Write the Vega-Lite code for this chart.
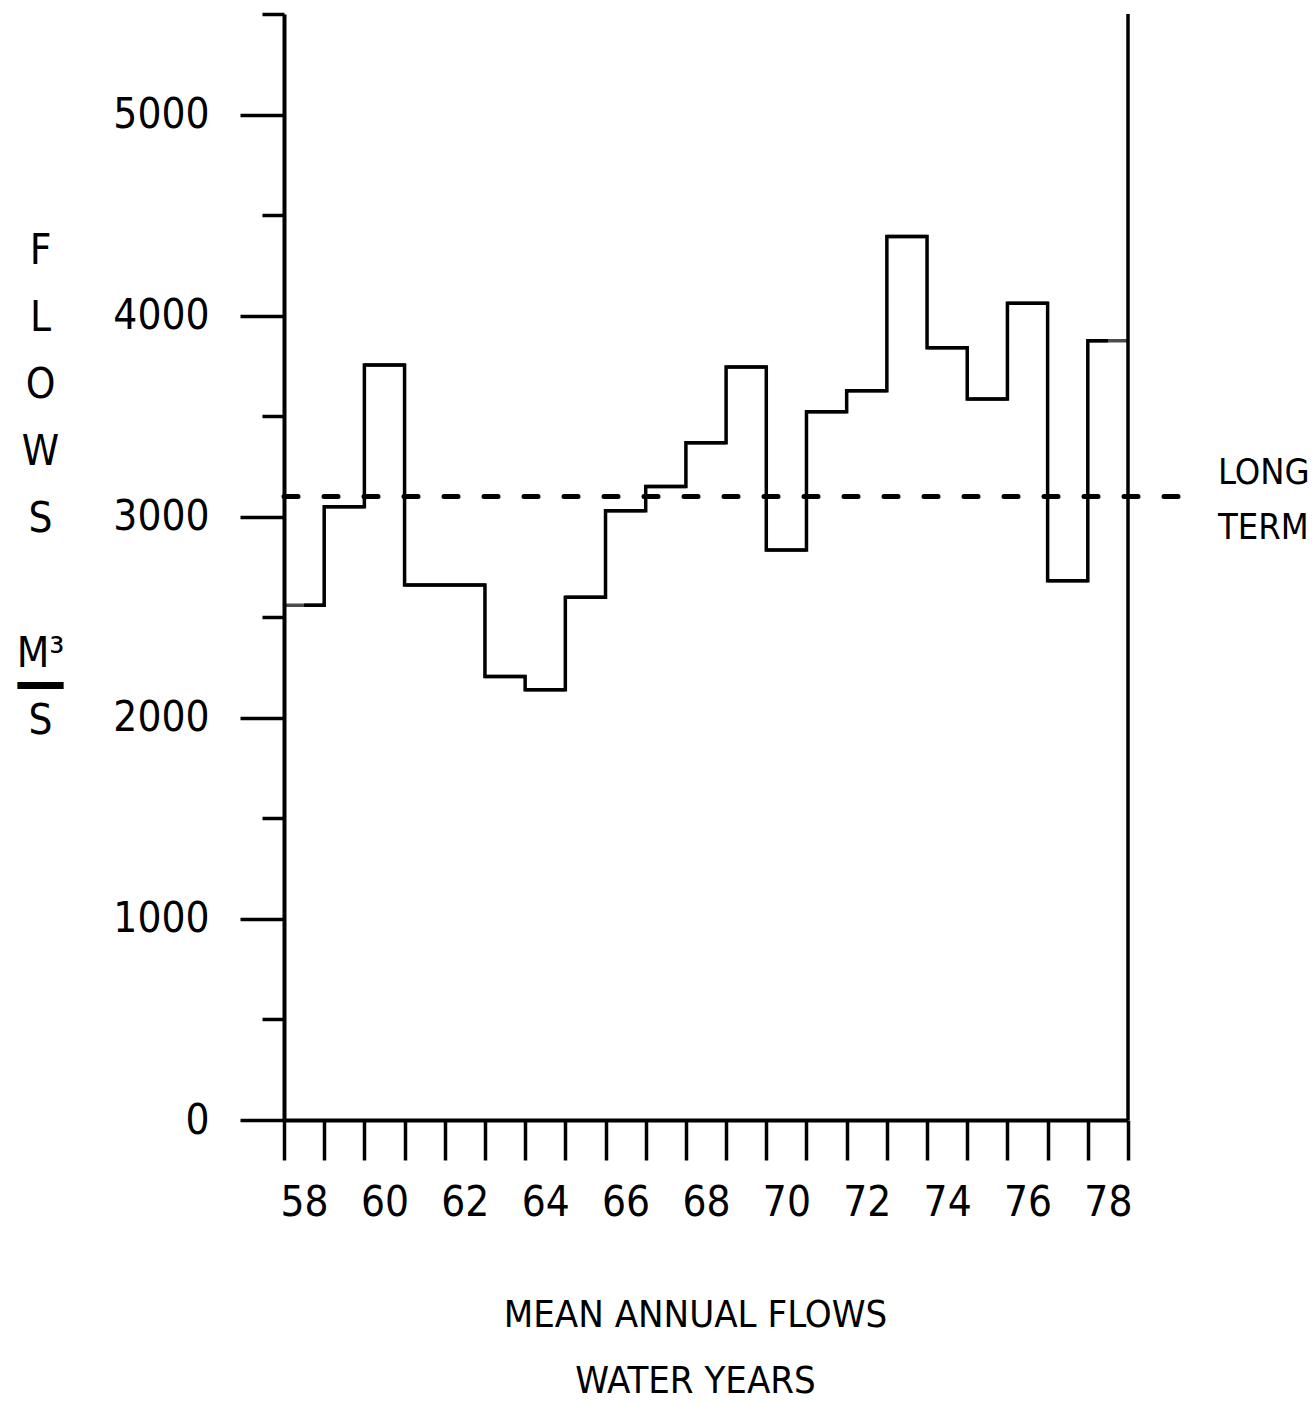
{
  "$schema": "https://vega.github.io/schema/vega-lite/v6.json",
  "width": 844,
  "height": 1106,
  "autosize": "none",
  "padding": {"left": 284, "top": 14, "right": 187, "bottom": 284},
  "background": "white",
  "config": {
    "view": {"stroke": null},
    "font": "DejaVu Sans Condensed, DejaVu Sans, sans-serif",
    "axis": {
      "grid": false,
      "domainColor": "black",
      "tickColor": "black",
      "labelColor": "black",
      "titleColor": "black",
      "labelFont": "DejaVu Sans Condensed, DejaVu Sans, sans-serif",
      "titleFont": "DejaVu Sans Condensed, DejaVu Sans, sans-serif",
      "titleFontWeight": "normal",
      "labelFontWeight": "normal"
    },
    "text": {"font": "DejaVu Sans Condensed, DejaVu Sans, sans-serif"}
  },
  "datasets": {
    "flows": [
      {"year": 58, "flow": 2560},
      {"year": 59, "flow": 3050},
      {"year": 60, "flow": 3755},
      {"year": 61, "flow": 2660},
      {"year": 62, "flow": 2660},
      {"year": 63, "flow": 2205},
      {"year": 64, "flow": 2140},
      {"year": 65, "flow": 2600},
      {"year": 66, "flow": 3030},
      {"year": 67, "flow": 3150},
      {"year": 68, "flow": 3368},
      {"year": 69, "flow": 3745},
      {"year": 70, "flow": 2835},
      {"year": 71, "flow": 3522},
      {"year": 72, "flow": 3627},
      {"year": 73, "flow": 4393},
      {"year": 74, "flow": 3840},
      {"year": 75, "flow": 3585},
      {"year": 76, "flow": 4062},
      {"year": 77, "flow": 2682},
      {"year": 78, "flow": 3875}
    ],
    "longterm": [{"label": "LONG TERM", "flow": 3100}]
  },
  "layer": [
    {
      "data": {"name": "flows"},
      "mark": {"type": "line", "interpolate": "step", "color": "black", "strokeWidth": 3.5},
      "encoding": {
        "x": {
          "field": "year",
          "type": "ordinal",
          "scale": {"paddingInner": 0, "paddingOuter": 0},
          "axis": {
            "tickBand": "extent",
            "tickSize": 40,
            "tickWidth": 3.5,
            "domainWidth": 4,
            "labelAngle": 0,
            "labelExpr": "datum.value % 2 === 0 ? datum.label : ''",
            "labelFontSize": 42,
            "labelPadding": 22,
            "labelOverlap": false,
            "title": ["MEAN ANNUAL FLOWS", "WATER YEARS"],
            "titleFontSize": 38,
            "titleLineHeight": 66,
            "titlePadding": 73,
            "titleX": 411,
            "titleAlign": "center"
          }
        },
        "y": {
          "field": "flow",
          "type": "quantitative",
          "scale": {"domain": [0, 5500], "nice": false},
          "axis": {
            "values": [0, 500, 1000, 1500, 2000, 2500, 3000, 3500, 4000, 4500, 5000, 5500],
            "labelExpr": "datum.value % 1000 === 0 ? '' + datum.value : ''",
            "tickSize": {"condition": {"test": "datum.value % 1000 === 0", "value": 44}, "value": 22},
            "tickWidth": 3.5,
            "domainWidth": 4,
            "labelFontSize": 42,
            "labelPadding": 31,
            "labelBaseline": "middle",
            "title": ["F", "\u2800", "L", "\u2800", "O", "\u2800", "W", "\u2800", "S", "\u2800", "\u2800", "\u2800", "M³", "━━", "S"],
            "titleAngle": 0,
            "titleX": -244,
            "titleY": 249,
            "titleAlign": "center",
            "titleBaseline": "alphabetic",
            "titleFontSize": 42,
            "titleLineHeight": 33.6
          }
        }
      }
    },
    {
      "data": {"name": "flows"},
      "mark": {"type": "tick", "color": "black", "thickness": 3.5, "size": 40.2},
      "encoding": {
        "x": {"field": "year", "type": "ordinal"},
        "y": {"field": "flow", "type": "quantitative"}
      }
    },
    {
      "data": {"name": "longterm"},
      "mark": {"type": "rule", "color": "black", "strokeWidth": 5, "strokeDash": [14, 26], "strokeCap": "round", "x2Offset": 80, "clip": false},
      "encoding": {
        "x": {"datum": 58, "type": "ordinal", "bandPosition": 0},
        "x2": {"datum": 78},
        "y": {"field": "flow", "type": "quantitative"}
      }
    },
    {
      "data": {"name": "longterm"},
      "mark": {"type": "text", "align": "left", "baseline": "middle", "dx": 90, "dy": -24, "fontSize": 36, "lineBreak": " ", "lineHeight": 55, "color": "black"},
      "encoding": {
        "x": {"datum": 78, "type": "ordinal", "bandPosition": 1},
        "y": {"field": "flow", "type": "quantitative"},
        "text": {"field": "label"}
      }
    },
    {
      "data": {"name": "longterm"},
      "mark": {"type": "rule", "color": "black", "strokeWidth": 3.5},
      "encoding": {
        "x": {"datum": 78, "type": "ordinal", "bandPosition": 1}
      }
    }
  ]
}
